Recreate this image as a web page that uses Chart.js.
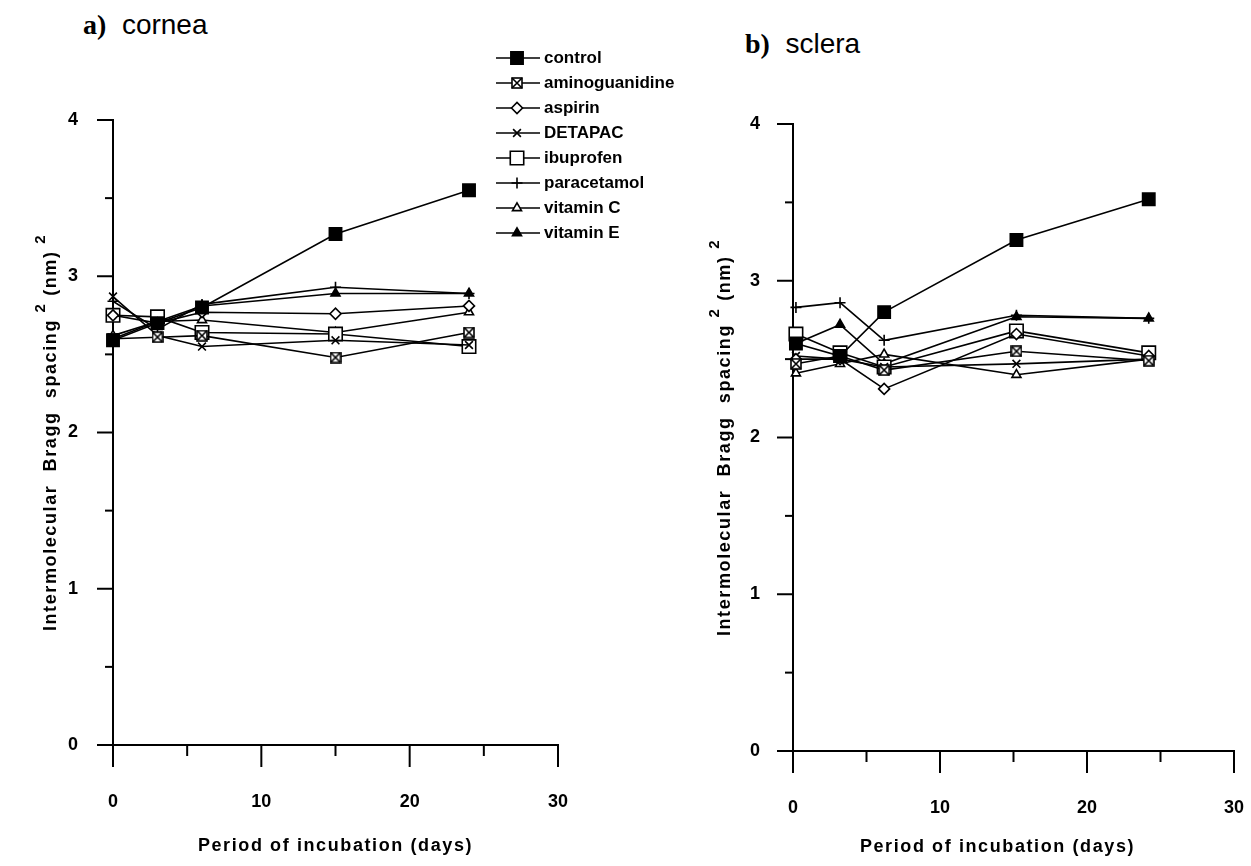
<!DOCTYPE html>
<html><head><meta charset="utf-8">
<script src="https://cdn.jsdelivr.net/npm/chart.js@4.4.0/dist/chart.umd.min.js"></script>
<style>
html,body{margin:0;padding:0;background:#fff;width:1251px;height:866px;overflow:hidden;position:relative}
canvas{position:absolute;top:0;left:0}
.ttl{position:absolute;font-family:"Liberation Sans",Arial,sans-serif;font-size:28px;line-height:28px;color:#000;white-space:pre}
.ttl b{font-family:"Liberation Serif",serif}
</style></head><body>
<div class="ttl" style="left:83px;top:11px"><b>a)</b>  cornea</div>
<div class="ttl" style="left:745px;top:30px"><b>b)</b>  sclera</div>
<div style="position:absolute;left:0;top:0;width:720px;height:866px"><canvas id="c1" width="720" height="866"></canvas></div>
<div style="position:absolute;left:640px;top:0;width:611px;height:866px"><canvas id="c2" width="611" height="866"></canvas></div>
<script>
// ---- data ----
const seriesNames = ['control','aminoguanidine','aspirin','DETAPAC','ibuprofen','paracetamol','vitamin C','vitamin E'];
const xTicks = [0, 10, 20, 30];
const yTicks = [0, 1, 2, 3, 4];
const xTitle = 'Period of incubation (days)';
const yTitleParts = ['Intermolecular  Bragg  spacing ', '2', ' (nm) ', '2'];
const yTitleSup   = [false, true, false, true];

const corneaDays = [0, 3, 6, 15, 24];
const corneaControl        = [2.59, 2.70, 2.80, 3.27, 3.55];
const corneaAminoguanidine = [2.60, 2.61, 2.62, 2.48, 2.64];
const corneaAspirin        = [2.75, 2.70, 2.77, 2.76, 2.81];
const corneaDETAPAC        = [2.87, 2.62, 2.55, 2.59, 2.56];
const corneaIbuprofen      = [2.75, 2.74, 2.64, 2.63, 2.55];
const corneaParacetamol    = [2.84, 2.66, 2.82, 2.93, 2.89];
const corneaVitaminC       = [2.62, 2.71, 2.72, 2.64, 2.77];
const corneaVitaminE       = [2.60, 2.71, 2.81, 2.89, 2.89];

const scleraDays = [0.2, 3.2, 6.2, 15.2, 24.2];
const scleraControl        = [2.60, 2.52, 2.80, 3.26, 3.52];
const scleraAminoguanidine = [2.47, 2.52, 2.43, 2.55, 2.49];
const scleraAspirin        = [2.50, 2.50, 2.31, 2.66, 2.52];
const scleraDETAPAC        = [2.52, 2.50, 2.45, 2.47, 2.50];
const scleraIbuprofen      = [2.66, 2.54, 2.45, 2.68, 2.54];
const scleraParacetamol    = [2.83, 2.86, 2.62, 2.78, 2.76];
const scleraVitaminC       = [2.41, 2.47, 2.53, 2.40, 2.50];
const scleraVitaminE       = [2.60, 2.72, 2.47, 2.77, 2.76];

// ---- styles ----
const FONT = '"Liberation Sans", Arial, sans-serif';
function crossedSquare(size){
  const c=document.createElement('canvas'); c.width=c.height=size;
  const g=c.getContext('2d');
  g.fillStyle='#fff'; g.fillRect(1,1,size-2,size-2);
  g.strokeStyle='#000'; g.lineWidth=1.6; g.strokeRect(1,1,size-2,size-2);
  g.beginPath(); g.moveTo(1,1); g.lineTo(size-1,size-1); g.moveTo(size-1,1); g.lineTo(1,size-1); g.stroke();
  return c;
}
const cs = crossedSquare(12);
const markerStyles = [
  {pointStyle:'rect', radius:8.7, fill:'#000'},
  {pointStyle:cs, radius:6, fill:'#fff'},
  {pointStyle:'rectRot', radius:5.5, fill:'#fff'},
  {pointStyle:'crossRot', radius:5.5, fill:'#fff'},
  {pointStyle:'rect', radius:9.5, fill:'#fff'},
  {pointStyle:'cross', radius:5.5, fill:'#fff'},
  {pointStyle:'triangle', radius:5.2, fill:'#fff'},
  {pointStyle:'triangle', radius:5.2, fill:'#000'}
];

function makeDatasets(days, lists){
  return lists.map((vals,i)=>({
    label: seriesNames[i],
    data: vals.map((v,k)=>({x:days[k], y:v})),
    borderColor:'#000', borderWidth:1.6, tension:0, fill:false,
    pointStyle: markerStyles[i].pointStyle,
    pointRadius: markerStyles[i].radius,
    pointBackgroundColor: markerStyles[i].fill,
    pointBorderColor:'#000', pointBorderWidth:1.6,
    clip:false
  }));
}

const tickMarks = {
  id:'tickMarks',
  afterDraw(chart){
    const {ctx, chartArea:a, scales:{x,y}} = chart;
    ctx.save(); ctx.strokeStyle='#000'; ctx.lineWidth=2;
    const ys = [];
    yTicks.forEach((v,i)=>{ ys.push([v,16]); if(i<yTicks.length-1) ys.push([(v+yTicks[i+1])/2,8]); });
    ys.forEach(([v,L])=>{ const py=y.getPixelForValue(v); ctx.beginPath(); ctx.moveTo(a.left-L,py); ctx.lineTo(a.left,py); ctx.stroke(); });
    const xs = [];
    xTicks.forEach((v,i)=>{ xs.push([v,22]); if(i<xTicks.length-1) xs.push([(v+xTicks[i+1])/2,11]); });
    xs.forEach(([v,L])=>{ const px=x.getPixelForValue(v); ctx.beginPath(); ctx.moveTo(px,a.bottom); ctx.lineTo(px,a.bottom+L); ctx.stroke(); });
    ctx.restore();
  }
};

const axisTitles = {
  id:'axisTitles',
  afterDraw(chart, args, o){
    const {ctx, chartArea:a} = chart;
    ctx.save();
    ctx.fillStyle='#000';
    ctx.font = 'bold 18px ' + FONT;
    ctx.letterSpacing = '1.6px';
    ctx.textAlign='center'; ctx.textBaseline='middle';
    ctx.fillText(xTitle, (a.left+a.right)/2 + o.xShift, a.bottom + o.xBelow);
    const mainFont = 'bold 18px ' + FONT, supFont = 'bold 15px ' + FONT;
    const widths = yTitleParts.map((t,i)=>{ ctx.font = yTitleSup[i]?supFont:mainFont; return ctx.measureText(t).width; });
    const total = widths.reduce((s,w)=>s+w,0);
    ctx.translate(a.left - o.yLeft, (a.top+a.bottom)/2);
    ctx.rotate(-Math.PI/2);
    ctx.textAlign='left';
    let px = -total/2;
    yTitleParts.forEach((t,i)=>{
      ctx.font = yTitleSup[i]?supFont:mainFont;
      ctx.fillText(t, px, yTitleSup[i] ? -10 : 0);
      px += widths[i];
    });
    ctx.restore();
  }
};

const customLegend = {
  id:'customLegend',
  afterDraw(chart, args, o){
    if(!o || !o.show) return;
    const ctx = chart.ctx;
    chart.data.datasets.forEach((ds,i)=>{
      const y = o.top + i*o.gap;
      ctx.save();
      ctx.strokeStyle='#000'; ctx.lineWidth=1.6;
      ctx.beginPath(); ctx.moveTo(o.left,y); ctx.lineTo(o.left+o.len,y); ctx.stroke();
      ctx.fillStyle = ds.pointBackgroundColor; ctx.strokeStyle='#000'; ctx.lineWidth=1.6;
      Chart.helpers.drawPoint(ctx,{pointStyle:ds.pointStyle, radius:ds.pointRadius, borderWidth:1.6, rotation:0}, o.left+o.mark, y);
      ctx.fillStyle='#000'; ctx.font='bold 17px ' + FONT;
      ctx.textBaseline='middle'; ctx.textAlign='left';
      ctx.fillText(ds.label, o.left+o.len+4, y);
      ctx.restore();
    });
  }
};

function makeOptions(pad, yLabPad, xLabPad, titles, legend){
  const tickFont = {family:FONT, size:18, weight:'bold'};
  return {
    responsive:false, animation:false, devicePixelRatio:1,
    layout:{padding:pad},
    plugins:{legend:{display:false}, tooltip:{enabled:false}, customLegend:legend, axisTitles:titles},
    scales:{
      x:{type:'linear', min:0, max:30,
        afterBuildTicks:s=>{ s.ticks = xTicks.map(v=>({value:v})); },
        afterFit:s=>{ s.height = 100; s.paddingLeft = 0; s.paddingRight = 0; },
        grid:{display:true, drawOnChartArea:false, drawTicks:false, tickLength:0},
        border:{display:true, color:'#000', width:2},
        ticks:{color:'#000', font:tickFont, padding:xLabPad, maxRotation:0},
        title:{display:false}
      },
      y:{type:'linear', min:0, max:4,
        afterBuildTicks:s=>{ s.ticks = yTicks.map(v=>({value:v})); },
        afterFit:s=>{ s.width = 100; s.paddingTop = 0; s.paddingBottom = 0; },
        grid:{display:true, drawOnChartArea:false, drawTicks:false, tickLength:0},
        border:{display:true, color:'#000', width:2},
        ticks:{color:'#000', font:tickFont, padding:yLabPad},
        title:{display:false}
      }
    }
  };
}

new Chart(document.getElementById('c1'), {
  type:'line',
  data:{datasets: makeDatasets(corneaDays, [corneaControl, corneaAminoguanidine, corneaAspirin, corneaDETAPAC, corneaIbuprofen, corneaParacetamol, corneaVitaminC, corneaVitaminE])},
  options: makeOptions({left:13, top:120, right:162, bottom:21}, 35, 46,
    {xShift:0, xBelow:101, yLeft:62},
    {show:true, left:496, top:58, gap:25, len:44, mark:21}),
  plugins:[tickMarks, axisTitles, customLegend]
});

new Chart(document.getElementById('c2'), {
  type:'line',
  data:{datasets: makeDatasets(scleraDays, [scleraControl, scleraAminoguanidine, scleraAspirin, scleraDETAPAC, scleraIbuprofen, scleraParacetamol, scleraVitaminC, scleraVitaminE])},
  options: makeOptions({left:53, top:124, right:17, bottom:15}, 33, 46,
    {xShift:-16, xBelow:96, yLeft:68},
    {show:false}),
  plugins:[tickMarks, axisTitles, customLegend]
});
</script>
</body></html>
